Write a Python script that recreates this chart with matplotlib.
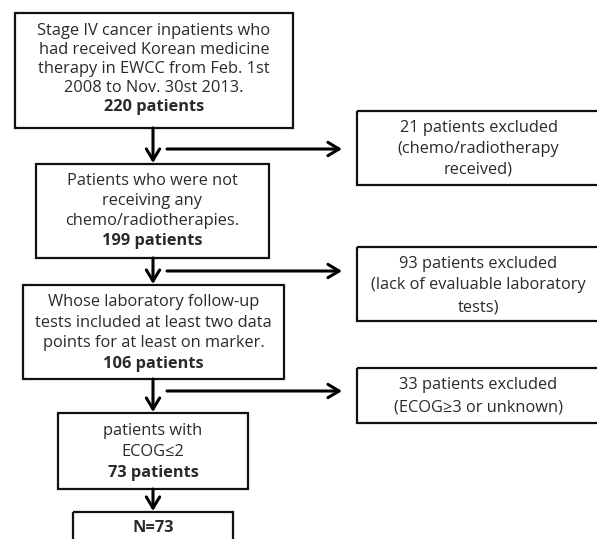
import matplotlib
matplotlib.use("Agg")
import matplotlib.pyplot as plt
from matplotlib.patches import Rectangle, FancyArrowPatch

plt.rcParams['font.family'] = ['Open Sans', 'Noto Sans', 'DejaVu Sans']

# Flow content
main_texts = [
    ["Stage IV cancer inpatients who", "had received Korean medicine",
     "therapy in EWCC from Feb. 1st", "2008 to Nov. 30st 2013."],
    ["Patients who were not", "receiving any", "chemo/radiotherapies."],
    ["Whose laboratory follow-up", "tests included at least two data",
     "points for at least on marker."],
    ["patients with", "ECOG\u22642"],
    [],
]
main_counts = ["220 patients", "199 patients", "106 patients", "73 patients", "N=73"]
excl_texts = [
    ["21 patients excluded", "(chemo/radiotherapy", "received)"],
    ["93 patients excluded", "(lack of evaluable laboratory", "tests)"],
    ["33 patients excluded", "(ECOG\u22653 or unknown)"],
]

# Layout (pixel coordinates, y downward)
main_boxes = [(15, 13, 293, 128), (36, 164, 269, 258), (23, 285, 284, 379),
              (58, 413, 248, 489), (73, 512, 233, 560)]
main_line_y = [[31, 50, 69, 88, 107], [181, 201, 221, 241], [302, 323, 343, 364],
               [431, 452, 473], [528]]
excl_boxes = [(357, 111, 600, 185), (357, 247, 600, 321), (357, 368, 600, 423)]
excl_line_y = [[128, 149, 170], [264, 285, 307], [385, 407]]
arrow_y = [149, 271, 391]
cx = 153

W, H = 597, 539
fig = plt.figure(figsize=(W / 100, H / 100), dpi=100)
ax = fig.add_axes([0, 0, 1, 1])
ax.set_xlim(0, W)
ax.set_ylim(H, 0)
ax.axis('off')

FS = 11.8
lw_box = 1.6

def draw_box(b):
    x0, y0, x1, y1 = b
    ax.add_patch(Rectangle((x0, y0), x1 - x0, y1 - y0, fill=False,
                           edgecolor='#111111', linewidth=lw_box))

for b, lines, cnt, ys in zip(main_boxes, main_texts, main_counts, main_line_y):
    draw_box(b)
    bx = (b[0] + b[2]) / 2
    for t, y in zip(lines + [cnt], ys):
        bold = (t == cnt)
        ax.text(bx, y, t, ha='center', va='center', fontsize=FS,
                fontweight='bold' if bold else 'normal', color='#2a2a2a')

for b, lines, ys in zip(excl_boxes, excl_texts, excl_line_y):
    draw_box(b)
    bx = (b[0] + b[2]) / 2
    for t, y in zip(lines, ys):
        ax.text(bx, y, t, ha='center', va='center', fontsize=FS, color='#2a2a2a')

def arrow(x0, y0, x1, y1):
    ax.add_patch(FancyArrowPatch((x0, y0), (x1, y1), arrowstyle='->,head_length=5,head_width=3',
                                 mutation_scale=1.6, linewidth=2.2, color='black',
                                 shrinkA=0, shrinkB=0))

for i in range(len(main_boxes) - 1):
    arrow(cx, main_boxes[i][3], cx, main_boxes[i + 1][1] - 1)

for y in arrow_y:
    arrow(167, y, 342, y)

fig.savefig("out.png", dpi=100)
